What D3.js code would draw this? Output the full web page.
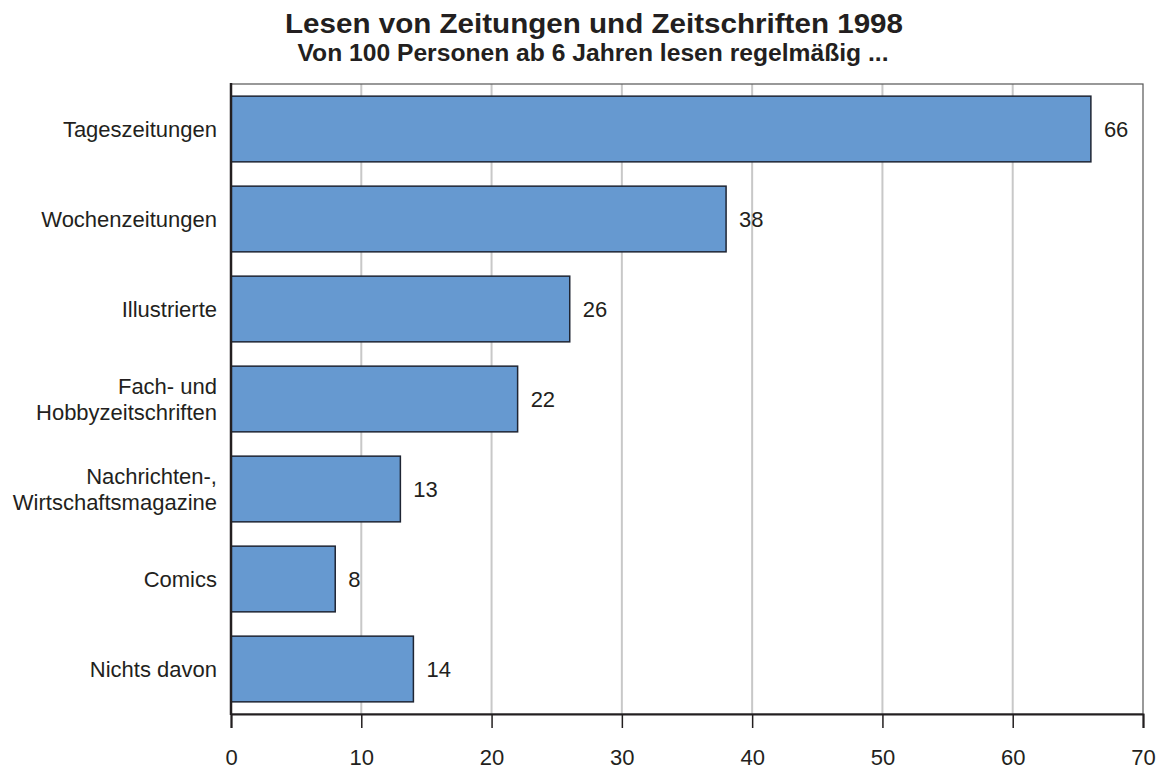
<!DOCTYPE html>
<html>
<head>
<meta charset="utf-8">
<script src="https://cdn.jsdelivr.net/npm/d3@7"></script>
<style>
  body { margin: 0; background: #fff; }
  svg text { font-family: "Liberation Sans", Arial, sans-serif; fill: #231f20; }
</style>
</head>
<body>
<svg id="chart"></svg>
<script>
var width = 1161;
var height = 772;

var categories = [
  ["Tageszeitungen"],
  ["Wochenzeitungen"],
  ["Illustrierte"],
  ["Fach- und", "Hobbyzeitschriften"],
  ["Nachrichten-,", "Wirtschaftsmagazine"],
  ["Comics"],
  ["Nichts davon"]
];
var values = [66, 38, 26, 22, 13, 8, 14];
var xTicks = [0, 10, 20, 30, 40, 50, 60, 70];

var margin = { top: 84, right: 18, bottom: 58, left: 231 };

var svg = d3.select("#chart").attr("width", width).attr("height", height);

var x = d3.scaleLinear().domain([0, 70]).range([margin.left, width - margin.right]);
var y = d3.scaleBand()
  .domain(categories.map(function(d, i) { return i; }))
  .range([margin.top, height - margin.bottom])
  .paddingInner(0.27)
  .paddingOuter(0.135);

// title
svg.append("text")
  .attr("x", 594).attr("y", 33)
  .attr("text-anchor", "middle")
  .attr("textLength", 618)
  .attr("lengthAdjust", "spacingAndGlyphs")
  .style("font-size", "28px").style("font-weight", "bold")
  .text("Lesen von Zeitungen und Zeitschriften 1998");
svg.append("text")
  .attr("x", 593).attr("y", 61)
  .attr("text-anchor", "middle")
  .attr("textLength", 591)
  .attr("lengthAdjust", "spacingAndGlyphs")
  .style("font-size", "23px").style("font-weight", "bold")
  .text("Von 100 Personen ab 6 Jahren lesen regelmäßig ...");

// grid
svg.append("g")
  .selectAll("line")
  .data(xTicks.slice(1, -1))
  .enter()
  .append("line")
  .attr("x1", function(d) { return x(d); })
  .attr("x2", function(d) { return x(d); })
  .attr("y1", margin.top)
  .attr("y2", height - margin.bottom)
  .attr("stroke", "#c8c8c8")
  .attr("stroke-width", 2);

// frame
svg.append("rect")
  .attr("x", margin.left).attr("y", margin.top)
  .attr("width", x(70) - margin.left)
  .attr("height", height - margin.bottom - margin.top)
  .attr("fill", "none")
  .attr("stroke", "#555")
  .attr("stroke-width", 1.2);

// bars
svg.append("g")
  .selectAll("rect")
  .data(values)
  .enter()
  .append("rect")
  .attr("x", x(0))
  .attr("y", function(d, i) { return y(i); })
  .attr("width", function(d) { return x(d) - x(0); })
  .attr("height", y.bandwidth())
  .attr("fill", "#6699d0")
  .attr("stroke", "#1f2533")
  .attr("stroke-width", 1.5);

// value labels
svg.append("g")
  .selectAll("text")
  .data(values)
  .enter()
  .append("text")
  .attr("x", function(d) { return x(d) + 13; })
  .attr("y", function(d, i) { return y(i) + y.bandwidth() / 2; })
  .attr("dy", "0.35em")
  .style("font-size", "22px")
  .text(function(d) { return d; });

// category labels
var catLabel = svg.append("g")
  .selectAll("text")
  .data(categories)
  .enter()
  .append("text")
  .attr("text-anchor", "end")
  .attr("x", margin.left - 14)
  .attr("y", function(d, i) { return y(i) + y.bandwidth() / 2; })
  .style("font-size", "22px");
catLabel.each(function(d) {
  var t = d3.select(this);
  var start = -(d.length - 1) * 0.6 + 0.35;
  d.forEach(function(line, j) {
    t.append("tspan")
      .attr("x", margin.left - 14)
      .attr("dy", (j == 0 ? start : 1.2) + "em")
      .text(line);
  });
});

// axes
var xAxis = svg.append("g")
  .attr("transform", "translate(0," + (height - margin.bottom) + ")")
  .call(d3.axisBottom(x).tickValues(xTicks).tickSize(14).tickPadding(21));
xAxis.select(".domain").attr("stroke", "#231f20").attr("stroke-width", 2);
xAxis.selectAll(".tick line").attr("stroke", "#231f20").attr("stroke-width", 1.5);
xAxis.selectAll(".tick text").style("font-size", "22px").attr("fill", "#231f20")
  .style("font-family", "Liberation Sans, Arial, sans-serif");

svg.append("line")
  .attr("x1", x(0)).attr("x2", x(0))
  .attr("y1", margin.top - 1).attr("y2", height - margin.bottom + 1)
  .attr("stroke", "#231f20").attr("stroke-width", 2.5);
</script>
</body>
</html>
